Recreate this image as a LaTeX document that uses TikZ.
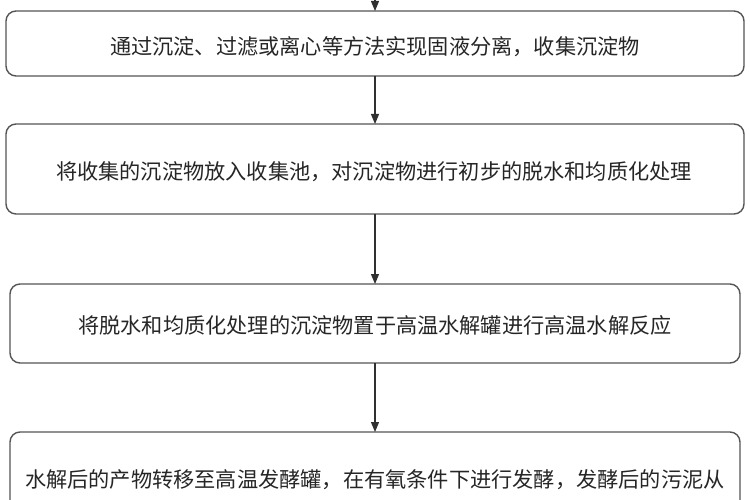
\documentclass[tikz,border=0pt]{standalone}
\usepackage{fontspec}
\newfontfamily\cjk{Noto Sans CJK SC}
\usetikzlibrary{arrows.meta}
\definecolor{boxline}{HTML}{555555}
\definecolor{txt}{HTML}{262626}
\definecolor{arr}{HTML}{303030}
\begin{document}
\begin{tikzpicture}[x=1pt,y=-1pt,
  stepbox/.style={draw=boxline,line width=1.4pt,rounded corners=10pt,fill=white},
  steptext/.style={text=txt,font=\cjk\fontsize{21.2}{25}\selectfont,inner sep=0pt,anchor=center},
  flow/.style={draw=arr,line width=1.1pt,-{Triangle[length=10pt,width=8pt]}}]
\useasboundingbox (0,0) rectangle (750,500);
\fill[white] (0,0) rectangle (750,500);
\begin{scope}
\clip (0,0) rectangle (750,500);
\draw[stepbox] (6,11) rectangle (744,76);
\draw[stepbox] (6,124) rectangle (744,214);
\draw[stepbox] (10,284) rectangle (740,363);
\draw[stepbox] (10,432) rectangle (740,540);
\coordinate (top) at (375,-2);
\coordinate (b1t) at (375,11);
\coordinate (b1b) at (375,76);
\coordinate (b2t) at (375,124);
\coordinate (b2b) at (375,214);
\coordinate (b3t) at (375,284);
\coordinate (b3b) at (375,363);
\coordinate (b4t) at (375,432);
\node[steptext] (t1) at (375,47) {通过沉淀、过滤或离心等方法实现固液分离，收集沉淀物};
\node[steptext] (t2) at (374,172) {将收集的沉淀物放入收集池，对沉淀物进行初步的脱水和均质化处理};
\node[steptext] (t3) at (375,325) {将脱水和均质化处理的沉淀物置于高温水解罐进行高温水解反应};
\node[steptext] (t4) at (375,480) {水解后的产物转移至高温发酵罐，在有氧条件下进行发酵，发酵后的污泥从};
\draw[flow] (top) -- (b1t);
\draw[flow] (b1b) -- (b2t);
\draw[flow] (b2b) -- (b3t);
\draw[flow] (b3b) -- (b4t);
\end{scope}
\end{tikzpicture}
\end{document}
